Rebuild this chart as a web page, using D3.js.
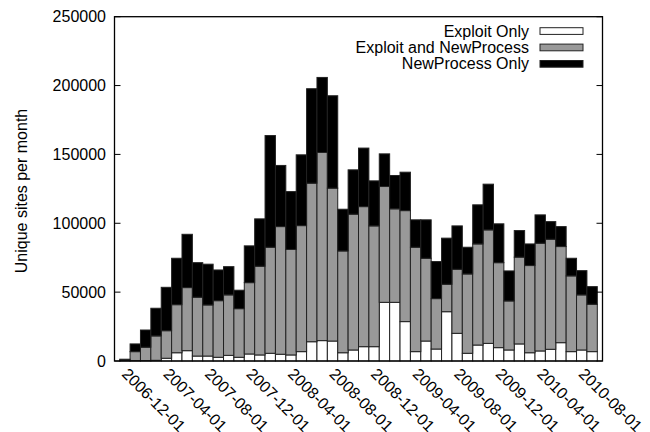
<!DOCTYPE html>
<meta charset="utf-8">
<style>
body { margin: 0; background: #fff; }
svg text { font-family: "Liberation Sans", Arial, sans-serif; font-size: 16px; fill: #000; }
</style>
<svg width="650" height="432"></svg>
<script src="https://cdn.jsdelivr.net/npm/d3@7"></script>
<script>

// months, one bar each, 2006-12 .. 2010-09
var months = ["2006-12-01","2007-01-01","2007-02-01","2007-03-01","2007-04-01","2007-05-01",
  "2007-06-01","2007-07-01","2007-08-01","2007-09-01","2007-10-01","2007-11-01","2007-12-01",
  "2008-01-01","2008-02-01","2008-03-01","2008-04-01","2008-05-01","2008-06-01","2008-07-01",
  "2008-08-01","2008-09-01","2008-10-01","2008-11-01","2008-12-01","2009-01-01","2009-02-01",
  "2009-03-01","2009-04-01","2009-05-01","2009-06-01","2009-07-01","2009-08-01","2009-09-01",
  "2009-10-01","2009-11-01","2009-12-01","2010-01-01","2010-02-01","2010-03-01","2010-04-01",
  "2010-05-01","2010-06-01","2010-07-01","2010-08-01","2010-09-01"];

// series values (unique sites)
var exploitOnly = [0,300,300,500,2000,6000,7500,3600,3600,2700,4100,2700,5100,4400,5600,4900,
  4400,6800,14000,14800,14500,6000,8000,10400,10400,42600,42600,28600,6800,14500,8700,35800,
  20100,5600,11600,12800,9700,8000,12400,6000,7300,8500,13300,6800,8000,6800];
var exploitAndNew = [300,6500,9700,17700,20000,34900,45800,42700,37100,41100,43900,35300,51800,
  64400,77000,92700,76600,91500,115100,136600,111000,73900,98600,101700,87700,84100,67900,80600,
  75800,60100,36600,19900,46500,57600,73400,82400,61700,35600,63000,63300,78200,79900,69800,
  55000,40000,34400];
var newProcessOnly = [1000,5600,12500,20100,31500,33700,38700,25100,29600,22300,20500,13400,26700,
  34400,81100,44400,42000,51400,68600,54500,67100,30300,32200,42500,32700,23700,24200,27900,
  19900,27900,26900,33500,31500,19400,28400,33200,28200,21800,19300,15700,20600,12800,14500,
  12800,17600,12800];

var yTicks = [0, 50000, 100000, 150000, 200000, 250000];
var xLabelEvery = 4;

var seriesNames = ["Exploit Only", "Exploit and NewProcess", "NewProcess Only"];
var seriesFill = ["#ffffff", "#999999", "#000000"];

var svg = d3.select("svg"),
    plotLeft = 114.5, plotRight = 602.5, plotTop = 16.7, plotBottom = 361;

var x = d3.scaleLinear().domain([-1, months.length]).range([plotLeft, plotRight]);
var y = d3.scaleLinear().domain([0, 250000]).range([plotBottom, plotTop]);

var rows = months.map(function(m, i) {
  return { month: m, a: exploitOnly[i], b: exploitAndNew[i], c: newProcessOnly[i], i: i };
});

var stack = d3.stack().keys(["a", "b", "c"]);
var layers = stack(rows);

////////// bars //////////
svg.append("g").selectAll("g")
  .data(layers)
  .enter().append("g")
    .attr("fill", function(d, k) { return seriesFill[k]; })
  .selectAll("rect")
  .data(function(d) { return d; })
  .enter().append("rect")
    .attr("x", function(d) { return x(d.data.i - 0.5); })
    .attr("width", function(d) { return x(d.data.i + 0.5) - x(d.data.i - 0.5); })
    .attr("y", function(d) { return y(d[1]); })
    .attr("height", function(d) { return y(d[0]) - y(d[1]); })
    .attr("stroke", "#222")
    .attr("stroke-width", 1);

////////// frame + ticks //////////
svg.append("rect")
  .attr("x", plotLeft).attr("y", plotTop)
  .attr("width", plotRight - plotLeft).attr("height", plotBottom - plotTop)
  .attr("fill", "none").attr("stroke", "#000").attr("stroke-width", 1.3);

var yt = svg.append("g");
yt.selectAll(".tl").data(yTicks).enter().append("line")
  .attr("x1", plotLeft).attr("x2", plotLeft + 6)
  .attr("y1", function(d) { return y(d); }).attr("y2", function(d) { return y(d); })
  .attr("stroke", "#000");
yt.selectAll(".tr").data(yTicks).enter().append("line")
  .attr("x1", plotRight).attr("x2", plotRight - 6)
  .attr("y1", function(d) { return y(d); }).attr("y2", function(d) { return y(d); })
  .attr("stroke", "#000");
yt.selectAll("text").data(yTicks).enter().append("text")
  .attr("x", 106)
  .attr("y", function(d) { return y(d); })
  .attr("dy", "0.35em")
  .attr("text-anchor", "end")
  .text(function(d) { return d; });

// x labels, rotated
svg.append("g").selectAll("text")
  .data(rows.filter(function(d) { return d.i % xLabelEvery === 0; }))
  .enter().append("text")
    .attr("transform", function(d) { return "translate(" + x(d.i) + "," + (plotBottom + 10) + ") rotate(45)"; })
    .attr("dy", "0.35em")
    .text(function(d) { return d.month; });

// y axis title
svg.append("text")
  .attr("transform", "translate(27,191) rotate(-90)")
  .attr("text-anchor", "middle")
  .text("Unique sites per month");

////////// legend //////////
var legend = svg.append("g").selectAll("g")
  .data(seriesNames)
  .enter().append("g")
    .attr("transform", function(d, i) { return "translate(0," + (31 + i * 16.4) + ")"; });

legend.append("text")
  .attr("x", 529)
  .attr("dy", "0.35em")
  .attr("text-anchor", "end")
  .text(function(d) { return d; });

legend.append("rect")
  .attr("x", 540).attr("y", -3.3)
  .attr("width", 43).attr("height", 6.7)
  .attr("fill", function(d, i) { return seriesFill[i]; })
  .attr("stroke", "#222");

</script>
